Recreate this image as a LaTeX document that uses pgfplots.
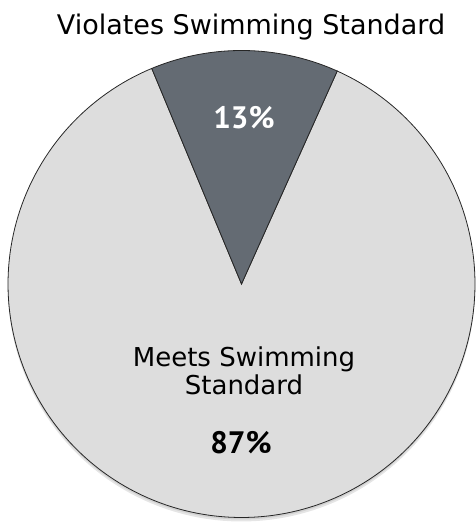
\documentclass[border=0pt]{standalone}
\usepackage{pgfplots}
\pgfplotsset{compat=1.18}
\usepackage{pgfplotstable}
\usepackage{fontspec}
\setmainfont{DejaVu Sans}
\newfontfamily\numfont{PT Sans}
\definecolor{sliceDark}{HTML}{646B73}
\definecolor{sliceLight}{HTML}{DDDDDD}

% share of samples per category (percent)
\pgfplotstableread{
label share
Violates 13
Meets 87
}\sharetable

\begin{document}
\begin{tikzpicture}
\pgfplotstablegetelem{0}{share}\of\sharetable \edef\violates{\pgfplotsretval}
\pgfplotstablegetelem{1}{share}\of\sharetable \edef\meets{\pgfplotsretval}
% slice angles: the small slice sits at the top of the pie
\pgfmathsetmacro{\aStart}{89.2-\violates*1.8}
\pgfmathsetmacro{\aMid}{89.2+\violates*1.8}
\pgfmathsetmacro{\aEnd}{\aMid+\meets*3.6}
\def\cx{241.5}\def\cy{239}\def\rr{233.5}
\begin{axis}[width=473bp,height=523bp,scale only axis,
  xmin=0,xmax=473,ymin=0,ymax=523,hide axis,clip=false]
  % keep the full drawing area in the bounding box
  \path (rel axis cs:0,0) rectangle (rel axis cs:1,1);
  % soft shadow under the pie
  \addplot[draw=none,fill=black!10,domain=0:360,samples=180]
    ({\cx+\rr*cos(x)},{\cy-4+\rr*sin(x)}) -- cycle;
  \addplot[draw=none,fill=black!18,domain=0:360,samples=180]
    ({\cx+\rr*cos(x)},{\cy-2+\rr*sin(x)}) -- cycle;
  % meets standard
  \addplot[fill=sliceLight,draw=black!85,line width=0.8bp,domain=\aMid:\aEnd,samples=200]
    ({\cx+\rr*cos(x)},{\cy+\rr*sin(x)}) -- (axis cs:\cx,\cy) -- cycle;
  % violates standard
  \addplot[fill=sliceDark,draw=black!85,line width=0.8bp,domain=\aStart:\aMid,samples=60]
    ({\cx+\rr*cos(x)},{\cy+\rr*sin(x)}) -- (axis cs:\cx,\cy) -- cycle;

  \node[anchor=base] at (axis cs:251,488)
    {\fontsize{27bp}{32bp}\selectfont Violates Swimming Standard};
  \node[anchor=base,text=white] at (axis cs:244,394.7)
    {\numfont\bfseries\fontsize{31bp}{36bp}\selectfont \violates\%};
  \node[anchor=base] at (axis cs:244,156.3)
    {\fontsize{26bp}{30bp}\selectfont Meets Swimming};
  \node[anchor=base] at (axis cs:244,128)
    {\fontsize{26bp}{30bp}\selectfont Standard};
  \node[anchor=base] at (axis cs:241,69.7)
    {\numfont\bfseries\fontsize{31bp}{36bp}\selectfont \meets\%};
\end{axis}
\end{tikzpicture}
\end{document}
